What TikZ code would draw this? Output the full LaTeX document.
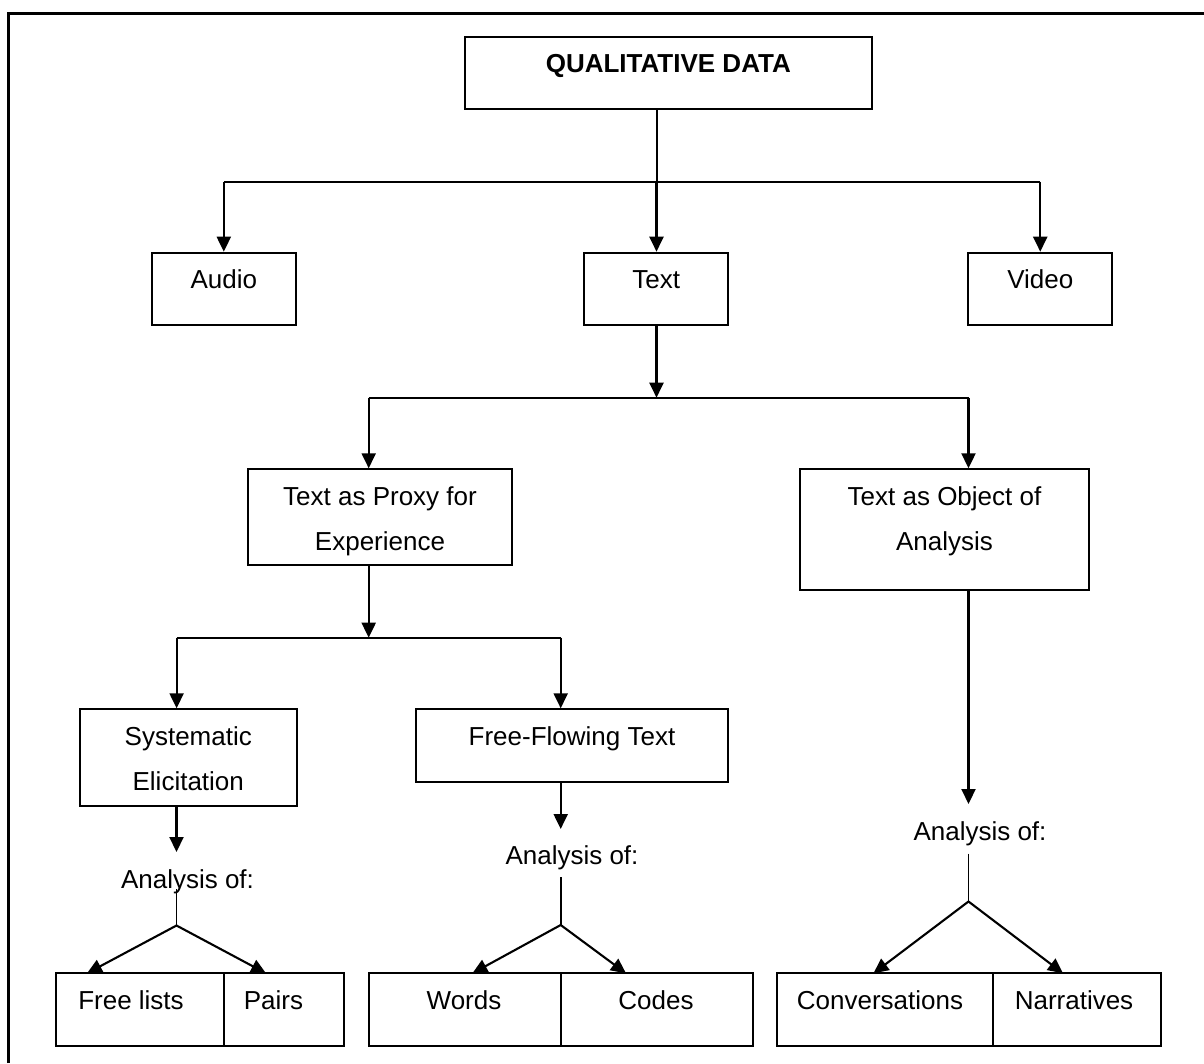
\documentclass[tikz,border=0pt]{standalone}
\usepackage{fontspec}
\setmainfont{Liberation Sans}
\usetikzlibrary{arrows.meta}
\begin{document}
\begin{tikzpicture}[x=1pt,y=-1pt,
  box/.style={draw, line width=2pt, inner sep=0pt},
  lbl/.style={inner sep=0pt, anchor=base, font=\fontsize{26}{30}\selectfont},
  arr/.style={line width=2.1pt, -{Triangle[length=15pt,width=14pt]}},
  plain/.style={line width=2pt},
  thinl/.style={line width=1.6pt}]
\useasboundingbox (0,0) rectangle (1204,1063);
% frame
\coordinate (fb) at (8,1063);
\coordinate (fc) at (8,13);
\coordinate (fr) at (1204,13);
\draw[line width=3pt] (fb) -- (fc) -- (fr);

% boxes
\node[box, minimum width=407.4pt, minimum height=72.3pt] (qd) at (668.3,72.85) {};
\node[lbl] (qdT) at (668.3,72) {\bfseries QUALITATIVE DATA};

\node[box, minimum width=143.6pt, minimum height=72.3pt] (audio) at (223.8,288.85) {};
\node[lbl] (audioT) at (223.8,288.3) {Audio};
\node[box, minimum width=143.6pt, minimum height=72.3pt] (text) at (656.2,288.85) {};
\node[lbl] (textT) at (656.2,288.3) {Text};
\node[box, minimum width=143.6pt, minimum height=72.3pt] (video) at (1040.25,288.85) {};
\node[lbl] (videoT) at (1040.25,288.3) {Video};

\node[box, minimum width=264pt, minimum height=96pt] (proxy) at (380,517.3) {};
\node[lbl] (proxyT1) at (380,505) {Text as Proxy for};
\node[lbl] (proxyT2) at (380,550.5) {Experience};

\node[box, minimum width=289pt, minimum height=120.4pt] (object) at (944.5,529.5) {};
\node[lbl] (objectT1) at (944.5,505) {Text as Object of};
\node[lbl] (objectT2) at (944.5,550.5) {Analysis};

\node[box, minimum width=216.5pt, minimum height=96.4pt] (sys) at (188.25,757.5) {};
\node[lbl] (sysT1) at (188.25,745) {Systematic};
\node[lbl] (sysT2) at (188.25,790.5) {Elicitation};

\node[box, minimum width=312.5pt, minimum height=72.4pt] (ff) at (571.75,745.5) {};
\node[lbl] (ffT) at (572,745) {Free-Flowing Text};

% bottom cells
\node[box, minimum width=168.3pt, minimum height=72.4pt] (freelists) at (140.15,1009.5) {};
\node[box, minimum width=119.7pt, minimum height=72.4pt] (pairs) at (284.15,1009.5) {};
\node[box, minimum width=192pt, minimum height=72.4pt] (words) at (464.7,1009.5) {};
\node[box, minimum width=192pt, minimum height=72.4pt] (codes) at (656.7,1009.5) {};
\node[box, minimum width=216.5pt, minimum height=72.4pt] (conv) at (884.75,1009.5) {};
\node[box, minimum width=167.5pt, minimum height=72.4pt] (narr) at (1076.75,1009.5) {};
\node[lbl] (freelistsT) at (131,1009) {Free lists};
\node[lbl] (pairsT) at (273.5,1009) {Pairs};
\node[lbl] (wordsT) at (464,1009) {Words};
\node[lbl] (codesT) at (656,1009) {Codes};
\node[lbl] (convT) at (880,1009) {Conversations};
\node[lbl] (narrT) at (1074,1009) {Narratives};

% analysis labels
\node[lbl] (anSys) at (187.5,888.3) {Analysis of:};
\node[lbl] (anFF) at (572,864.3) {Analysis of:};
\node[lbl] (anObj) at (980,840) {Analysis of:};

% level 1 connectors
\coordinate (j1) at (656.5,181.7);
\draw[plain] (qd.south -| j1) -- (j1);
\draw[plain] (audio.north |- j1) -- (video.north |- j1);
\draw[arr] (audio.north |- j1) -- (audio.north);
\draw[arr] (j1) -- (text.north -| j1);
\draw[arr] (video.north |- j1) -- (video.north);

% level 2
\coordinate (j2) at (656.5,397.7);
\coordinate (j2l) at (368.7,397.7);
\coordinate (j2r) at (968.5,397.7);
\draw[arr] (text.south -| j2) -- (j2);
\draw[plain] (j2l) -- (j2r);
\draw[arr] (j2l) -- (proxy.north -| j2l);
\draw[arr] (j2r) -- (object.north -| j2r);

% level 3
\coordinate (j3) at (368.7,637.7);
\coordinate (j3l) at (176.6,637.7);
\coordinate (j3r) at (560.7,637.7);
\draw[arr] (proxy.south -| j3) -- (j3);
\draw[plain] (j3l) -- (j3r);
\draw[arr] (j3l) -- (sys.north -| j3l);
\draw[arr] (j3r) -- (ff.north -| j3r);

% systematic branch
\coordinate (s1) at (176.5,852);
\coordinate (s2) at (176.5,889);
\coordinate (s3) at (176.5,925.5);
\coordinate (sL) at (87,973.3);
\coordinate (sR) at (266,973.3);
\draw[arr] (sys.south -| s1) -- (s1);
\draw[thinl] (s2) -- (s3);
\draw[arr] (s3) -- (sL);
\draw[arr] (s3) -- (sR);

% free-flowing branch
\coordinate (f1) at (560.7,829);
\coordinate (f2) at (560.7,877.3);
\coordinate (f3) at (560.7,925);
\coordinate (fL) at (472.4,973.3);
\coordinate (fR) at (626,973.3);
\draw[arr] (ff.south -| f1) -- (f1);
\draw[thinl] (f2) -- (f3);
\draw[arr] (f3) -- (fL);
\draw[arr] (f3) -- (fR);

% object branch
\coordinate (o1) at (968.5,804);
\coordinate (o2) at (968.5,853.5);
\coordinate (o3) at (968.5,901.5);
\coordinate (oL) at (873.5,973.3);
\coordinate (oR) at (1063,973.3);
\draw[arr] (object.south -| o1) -- (o1);
\draw[thinl] (o2) -- (o3);
\draw[arr] (o3) -- (oL);
\draw[arr] (o3) -- (oR);
\end{tikzpicture}
\end{document}
